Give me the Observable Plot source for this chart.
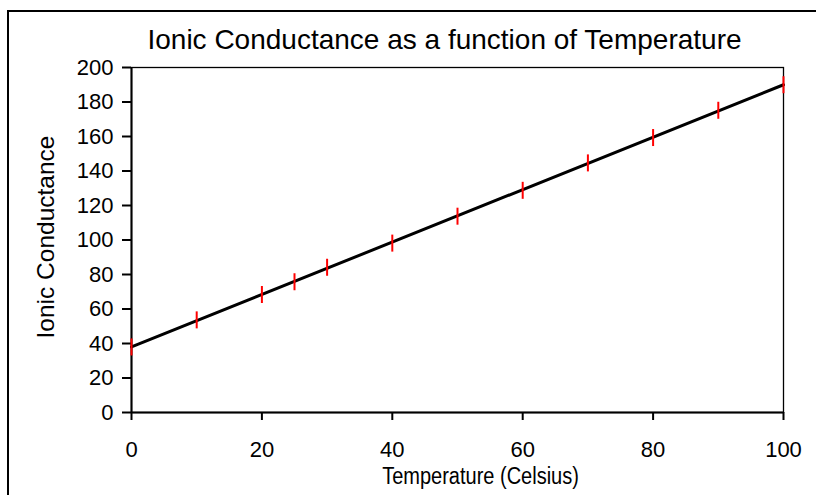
<!DOCTYPE html>
<html>
<head>
<meta charset="utf-8">
<script src="https://cdn.jsdelivr.net/npm/d3@7"></script>
<script src="https://cdn.jsdelivr.net/npm/@observablehq/plot@0.6"></script>
<style>
html, body { margin: 0; padding: 0; background: #fff; overflow: hidden; }
#wrap { position: relative; width: 816px; height: 495px; overflow: hidden; }
#wrap svg { position: absolute; left: 0; top: 0; }
#border { position: absolute; left: 7px; top: 10px; width: 1000px; height: 1000px; border-top: 2px solid #000; border-left: 2px solid #000; box-sizing: border-box; pointer-events: none; }
</style>
</head>
<body>
<div id="wrap"><div id="border"></div></div>
<script>
// Data
const temperature = [0, 10, 20, 25, 30, 40, 50, 60, 70, 80, 90, 100];
const conductance = [38, 53.7, 68.4, 75.8, 84.2, 98.2, 113.8, 128.8, 144.7, 159.4, 175.2, 190];
const fitTemperature = [0, 100];
const fitConductance = [38, 190];
const xTicks = [0, 20, 40, 60, 80, 100];
const yTicks = [0, 20, 40, 60, 80, 100, 120, 140, 160, 180, 200];
const titleText = "Ionic Conductance as a function of Temperature";
const xLabelText = "Temperature (Celsius)";
const yLabelText = "Ionic Conductance";

const points = temperature.map((t, i) => ({t, c: conductance[i]}));
const fit = fitTemperature.map((t, i) => ({t, c: fitConductance[i]}));

const vbar = {
  draw(context, size) {
    const r = Math.sqrt(size / Math.PI);
    context.moveTo(0, -r);
    context.lineTo(0, r);
  }
};

const font = "'Liberation Sans', Arial, sans-serif";

const chart = Plot.plot({
  width: 816,
  height: 495,
  marginLeft: 131,
  marginRight: 33,
  marginTop: 67,
  marginBottom: 83,
  style: { fontFamily: font, background: "transparent", color: "#000" },
  x: { domain: [0, 100] },
  y: { domain: [0, 200] },
  marks: [
    Plot.frame({ stroke: "#000", strokeWidth: 1.3 }),
    Plot.axisX({ ticks: xTicks, tickSize: 8, tickPadding: 21, fontSize: 22, strokeWidth: 2, label: null, tickFormat: d => String(d) }),
    Plot.axisY({ ticks: yTicks, tickSize: 9, tickPadding: 9, fontSize: 22, strokeWidth: 2, label: null, tickFormat: d => String(d) }),
    Plot.ruleX([0], { stroke: "#000", strokeWidth: 2 }),
    Plot.ruleY([0], { stroke: "#000", strokeWidth: 2 }),
    Plot.line(fit, { x: "t", y: "c", stroke: "#000", strokeWidth: 3 }),
    Plot.dot(points, { x: "t", y: "c", symbol: vbar, r: 8.5, stroke: "#ff0000", strokeWidth: 2, fill: "none" }),
    Plot.text([titleText], { frameAnchor: "top", lineAnchor: "middle", textAnchor: "middle", dy: -27, dx: -13, fontSize: 28, fill: "#000" }),
    Plot.text([xLabelText], { frameAnchor: "bottom", lineAnchor: "middle", textAnchor: "middle", dy: 64, dx: 23, fontSize: 23, fill: "#000" }),
    Plot.text([yLabelText], { frameAnchor: "left", lineAnchor: "middle", textAnchor: "middle", rotate: -90, dx: -85.5, dy: -3, fontSize: 24.5, fill: "#000" })
  ]
});

// The reference renders the x-axis title slightly condensed horizontally
d3.select(chart).selectAll("text")
  .filter(function () { return this.textContent === xLabelText; })
  .each(function () {
    const t = this.getAttribute("transform");
    if (t) this.setAttribute("transform", t + " scale(0.87,1)");
  });

document.getElementById("wrap").insertBefore(chart, document.getElementById("border"));
</script>
</body>
</html>
